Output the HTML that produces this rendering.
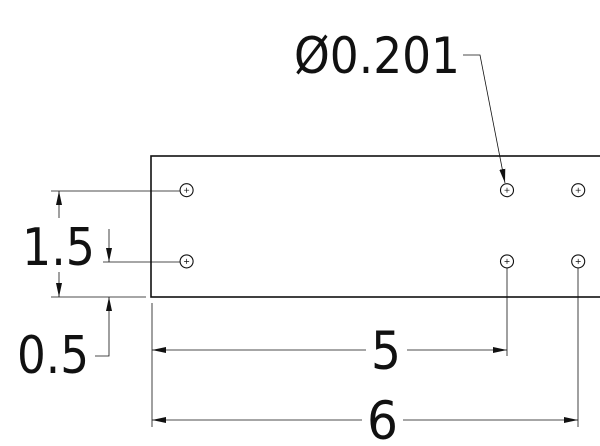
<!DOCTYPE html>
<html><head><meta charset="utf-8"><style>
html,body{margin:0;padding:0;background:#fff;}
svg{display:block;}
text{font-family:"DejaVu Sans","Liberation Sans",sans-serif;fill:#111;}
</style></head><body>
<svg id="d" width="600" height="446" viewBox="0 0 600 446">
<defs>
<marker id="ar" viewBox="0 0 14 6" refX="14" refY="3" markerWidth="14" markerHeight="6" markerUnits="userSpaceOnUse" orient="auto-start-reverse">
<path d="M0,0 L14,3 L0,6 z" fill="#111"/></marker>
</defs>
<g stroke="#111" fill="none">
<rect x="151" y="156" width="470" height="141" stroke-width="1.6"/>
<g id="holes" stroke-width="1.1"></g>
<g stroke-width="0.8">
<line x1="51" y1="191" x2="180" y2="191"/>
<line x1="51" y1="297" x2="146" y2="297"/>
<line x1="103" y1="262" x2="180" y2="262"/>
<line x1="59" y1="218" x2="59" y2="191" marker-end="url(#ar)"/>
<line x1="59" y1="272" x2="59" y2="297" marker-end="url(#ar)"/>
<line x1="109" y1="229" x2="109" y2="262" marker-end="url(#ar)"/>
<polyline points="95,356 109,356 109,297" marker-end="url(#ar)"/>
<line x1="152" y1="303" x2="152" y2="427"/>
<line x1="507" y1="268" x2="507" y2="356"/>
<line x1="578" y1="268" x2="578" y2="427"/>
<line x1="366" y1="350" x2="152" y2="350" marker-end="url(#ar)"/>
<line x1="407" y1="350" x2="507" y2="350" marker-end="url(#ar)"/>
<line x1="362" y1="420" x2="152" y2="420" marker-end="url(#ar)"/>
<line x1="403" y1="420" x2="578" y2="420" marker-end="url(#ar)"/>
<polyline points="463,55 480,55 505,183" marker-end="url(#ar)"/>
</g>
</g>
<text x="294" y="73" font-size="50" textLength="166" lengthAdjust="spacingAndGlyphs">Ø0.201</text>
<text x="22" y="265" font-size="52" textLength="73" lengthAdjust="spacingAndGlyphs">1.5</text>
<text x="17" y="373" font-size="52" textLength="72" lengthAdjust="spacingAndGlyphs">0.5</text>
<text x="371" y="369" font-size="53" textLength="30" lengthAdjust="spacingAndGlyphs">5</text>
<text x="367" y="439" font-size="53" textLength="31" lengthAdjust="spacingAndGlyphs">6</text>
</svg>
<script>
const holeX=[0.5,5,6];
const holeY=[0.5,1.5];
const ox=151, oy=297, s=71.2;
const g=document.getElementById('holes');
const NS='http://www.w3.org/2000/svg';
holeX.forEach(hx=>holeY.forEach(hy=>{
  const cx=ox+hx*s, cy=oy-hy*s;
  const grp=document.createElementNS(NS,'g');
  
  
  const c=document.createElementNS(NS,'circle');
  c.setAttribute('cx',cx);c.setAttribute('cy',cy);c.setAttribute('r',6.5);
  grp.appendChild(c);
  const p=document.createElementNS(NS,'path');
  p.setAttribute('d',`M${cx-2.5},${cy}H${cx+2.5}M${cx},${cy-2.5}V${cy+2.5}`);
  p.setAttribute('stroke-width','0.7');
  grp.appendChild(p);
  g.appendChild(grp);
}));
</script>
</body></html>
